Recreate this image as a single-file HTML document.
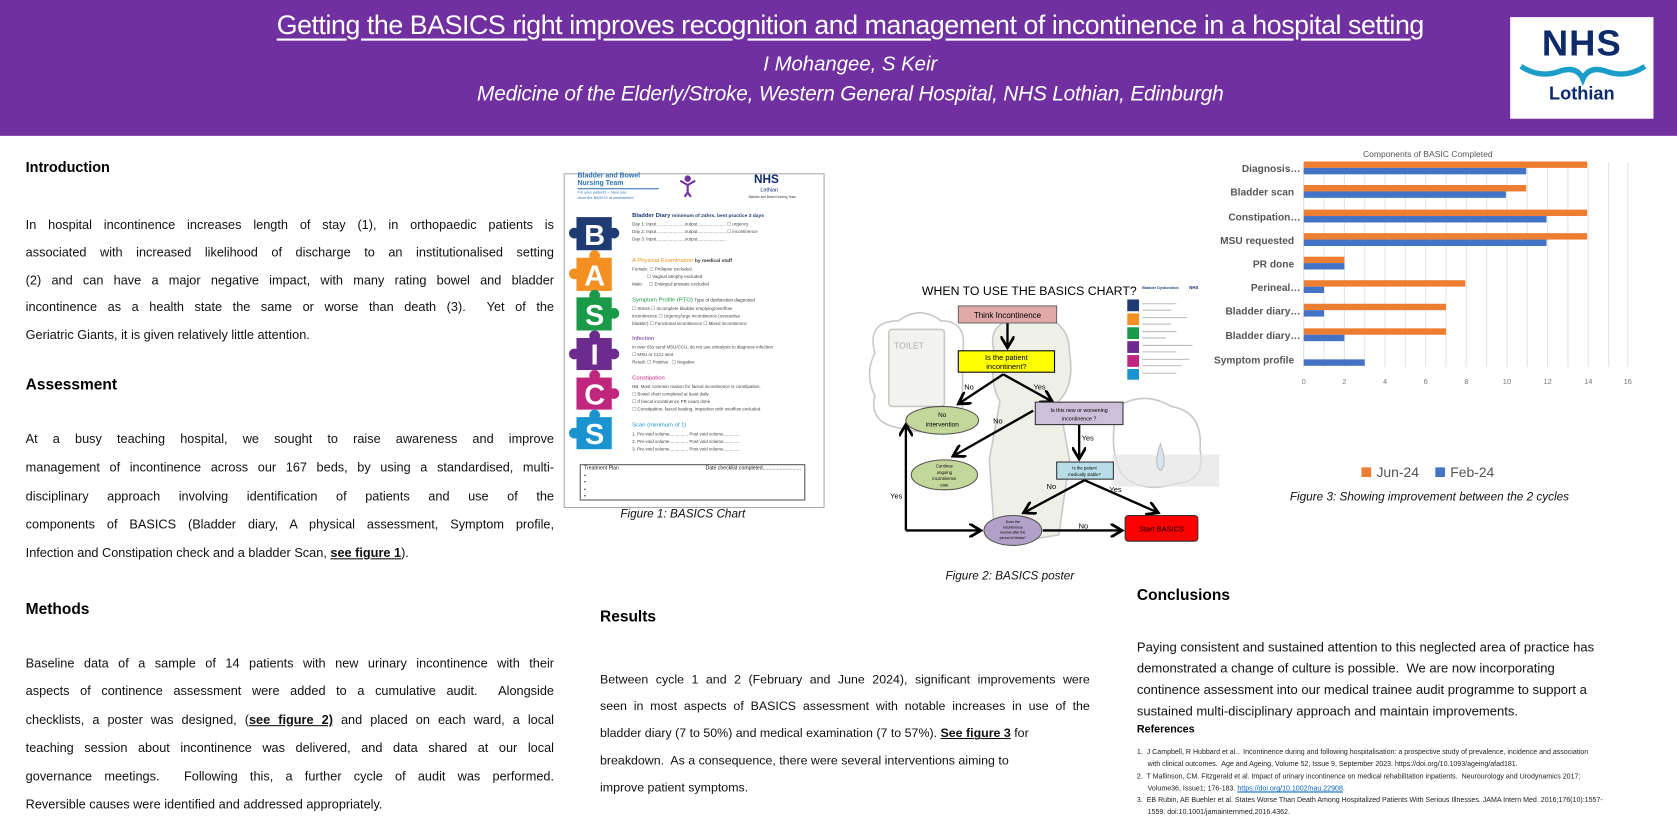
<!DOCTYPE html>
<html><head><meta charset="utf-8">
<style>
html,body{margin:0;padding:0;background:#fff;width:1677px;height:839px;overflow:hidden}
#w{position:absolute;left:0;top:0;width:1568px;height:785px;transform:scale(1.06952);transform-origin:0 0;font-family:"Liberation Sans",sans-serif;color:#111}
.a{position:absolute}
.hd{position:absolute;font-weight:bold;font-size:13.5px;color:#000}
.p{position:absolute;font-size:11.9px}
.p div{text-align:justify;text-align-last:justify;white-space:normal}
.p div.e{text-align-last:left}
.cap{position:absolute;font-style:italic;font-size:11px;color:#111}
.t{position:absolute;white-space:nowrap}
</style></head><body><div id="w">
<!-- header -->
<div class="a" style="left:0;top:0;width:1568px;height:127px;background:#7030a0"></div>
<div class="t" style="left:235px;top:10px;width:1120px;text-align:center;color:#fff;font-size:25px;text-decoration:underline;text-underline-offset:4px;letter-spacing:-0.4px">Getting the BASICS right improves recognition and management of incontinence in a hospital setting</div>
<div class="t" style="left:595px;top:50px;width:400px;text-align:center;color:#fff;font-size:19px;font-style:italic">I Mohangee, S Keir</div>
<div class="t" style="left:395px;top:77px;width:800px;text-align:center;color:#fff;font-size:19.5px;font-style:italic;letter-spacing:-0.2px">Medicine of the Elderly/Stroke, Western General Hospital, NHS Lothian, Edinburgh</div>
<div class="a" style="left:1412px;top:16px;width:134px;height:95px;background:#fff"></div>
<div class="t" style="left:1412px;top:22px;width:134px;text-align:center;font-weight:bold;font-size:34px;color:#0d2a6b;letter-spacing:1px">NHS</div>
<svg class="a" style="left:1420px;top:58px" width="120" height="22"><path d="M2 4 Q20 16 40 8 Q55 4 60 16 Q65 4 80 8 Q100 16 118 4" stroke="#1b9dc9" stroke-width="5" fill="none"/></svg>
<div class="t" style="left:1412px;top:78px;width:134px;text-align:center;font-weight:bold;font-size:17px;color:#0d2a6b">Lothian</div>

<!-- left column -->
<div class="hd" style="left:24px;top:149px">Introduction</div>
<div class="p" style="left:24px;top:198px;width:494px;line-height:25.8px">
<div>In hospital incontinence increases length of stay (1), in orthopaedic patients is</div>
<div>associated with increased likelihood of discharge to an institutionalised setting</div>
<div>(2) and can have a major negative impact, with many rating bowel and bladder</div>
<div>incontinence as a health state the same or worse than death (3).&nbsp; Yet of the</div>
<div class="e">Geriatric Giants, it is given relatively little attention.</div></div>
<div class="hd" style="left:24px;top:352px;font-size:14.5px">Assessment</div>
<div class="p" style="left:24px;top:397px;width:494px;line-height:26.8px">
<div>At a busy teaching hospital, we sought to raise awareness and improve</div>
<div>management of incontinence across our 167 beds, by using a standardised, multi-</div>
<div>disciplinary approach involving identification of patients and use of the</div>
<div>components of BASICS (Bladder diary, A physical assessment, Symptom profile,</div>
<div class="e">Infection and Constipation check and a bladder Scan, <b><u>see figure 1</u></b>).</div></div>
<div class="hd" style="left:24px;top:562px;font-size:14.5px">Methods</div>
<div class="p" style="left:24px;top:607px;width:494px;line-height:26.4px">
<div>Baseline data of a sample of 14 patients with new urinary incontinence with their</div>
<div>aspects of continence assessment were added to a cumulative audit.&nbsp; Alongside</div>
<div>checklists, a poster was designed, (<b><u>see figure 2)</u></b> and placed on each ward, a local</div>
<div>teaching session about incontinence was delivered, and data shared at our local</div>
<div>governance meetings.&nbsp; Following this, a further cycle of audit was performed.</div>
<div class="e">Reversible causes were identified and addressed appropriately.</div></div>

<!-- results -->
<div class="hd" style="left:561px;top:569px;font-size:14.5px">Results</div>
<div class="p" style="left:561px;top:623px;width:458px;line-height:25.2px;font-size:11.6px">
<div>Between cycle 1 and 2 (February and June 2024), significant improvements were</div>
<div>seen in most aspects of BASICS assessment with notable increases in use of the</div>
<div class="e">bladder diary (7 to 50%) and medical examination (7 to 57%). <b><u>See figure 3</u></b> for</div>
<div class="e">breakdown.&nbsp; As a consequence, there were several interventions aiming to</div>
<div class="e">improve patient symptoms.</div></div>

<!-- conclusions -->
<div class="hd" style="left:1063px;top:549px;font-size:14.5px">Conclusions</div>
<div class="p" style="left:1063px;top:595px;width:470px;line-height:20px;font-size:12.2px">
<div class="e">Paying consistent and sustained attention to this neglected area of practice has</div>
<div class="e">demonstrated a change of culture is possible.&nbsp; We are now incorporating</div>
<div class="e">continence assessment into our medical trainee audit programme to support a</div>
<div class="e">sustained multi-disciplinary approach and maintain improvements.</div></div>
<div class="hd" style="left:1063px;top:677px;font-size:10px">References</div>
<div class="a" style="left:1063px;top:698px;width:480px;font-size:6.6px;line-height:11.3px;color:#222">
<div>1.&nbsp; J Campbell, R Hubbard et al..&nbsp; Incontinence during and following hospitalisation: a prospective study of prevalence, incidence and association</div>
<div style="padding-left:10px">with clinical outcomes.&nbsp; Age and Ageing, Volume 52, Issue 9, September 2023. https://doi.org/10.1093/ageing/afad181.</div>
<div>2.&nbsp; T Mallinson, CM. Fitzgerald et al. Impact of urinary incontinence on medical rehabilitation inpatients.&nbsp; Neurourology and Urodynamics 2017;</div>
<div style="padding-left:10px">Volume36, Issue1; 176-183. <span style="color:#0563c1;text-decoration:underline">https://doi.org/10.1002/nau.22908</span>.</div>
<div>3.&nbsp; EB Rubin, AE Buehler et al. States Worse Than Death Among Hospitalized Patients With Serious Illnesses. JAMA Intern Med. 2016;176(10):1557-</div>
<div style="padding-left:10px">1559. doi:10.1001/jamainternmed.2016.4362.</div></div>

<!-- figure 1 -->
<div class="a" style="left:527px;top:162px;width:242px;height:311px;border:1px solid #aaa;background:#fff"></div>
<div class="t" style="left:540px;top:161px;font-size:6.5px;font-weight:bold;color:#2e75b6;line-height:7px">Bladder and Bowel<br>Nursing Team</div>
<div class="a" style="left:540px;top:176px;width:76px;height:1px;background:#2e75b6"></div>
<div class="t" style="left:540px;top:178px;font-size:3.6px;color:#2e75b6;line-height:4.5px">For your patients – have you<br>done the BASICS of assessment</div>
<svg class="a" style="left:633px;top:163px" width="20" height="22"><circle cx="10" cy="4" r="3" fill="#7030a0"/><path d="M3 6 L10 10 L17 6 M10 10 V17 M7 21 L10 17 L13 21" stroke="#7030a0" stroke-width="2" fill="none"/></svg>
<div class="t" style="left:705px;top:162px;font-size:11px;font-weight:bold;color:#0d2a6b">NHS</div>
<div class="t" style="left:711px;top:175px;font-size:5px;color:#0d2a6b">Lothian</div>
<div class="t" style="left:700px;top:182px;font-size:3px;color:#333">Bladder and Bowel Nursing Team</div>
<svg class="a" style="left:527px;top:195px" width="65" height="230">
<g font-family="Liberation Sans" font-weight="bold" font-size="27" fill="#fff" text-anchor="middle">
<rect x="12" y="8" width="33" height="31" fill="#1f3b73"/><circle cx="47" cy="23" r="5" fill="#1f3b73"/><circle cx="10" cy="23" r="5" fill="#1f3b73"/><text x="29" y="34">B</text>
<rect x="12" y="46" width="33" height="31" fill="#f39021"/><circle cx="29" cy="44" r="5" fill="#f39021"/><circle cx="10" cy="61" r="5" fill="#f39021"/><text x="29" y="72">A</text>
<rect x="12" y="83" width="33" height="31" fill="#1a9a48"/><circle cx="29" cy="81" r="5" fill="#1a9a48"/><circle cx="47" cy="98" r="5" fill="#1a9a48"/><text x="29" y="109">S</text>
<rect x="12" y="121" width="33" height="30" fill="#6b2c8e"/><circle cx="29" cy="119" r="5" fill="#6b2c8e"/><circle cx="10" cy="136" r="5" fill="#6b2c8e"/><circle cx="47" cy="136" r="5" fill="#6b2c8e"/><text x="29" y="146">I</text>
<rect x="12" y="158" width="33" height="30" fill="#c0267e"/><circle cx="29" cy="156" r="5" fill="#c0267e"/><circle cx="47" cy="173" r="5" fill="#c0267e"/><text x="29" y="183">C</text>
<rect x="12" y="195" width="33" height="30" fill="#1b93cf"/><circle cx="29" cy="193" r="5" fill="#1b93cf"/><circle cx="10" cy="210" r="5" fill="#1b93cf"/><text x="29" y="220">S</text>
</g></svg>
<div class="a" style="left:591px;top:198px;font-size:4.2px;line-height:7px;color:#444;width:170px">
<div style="color:#1f3b73;font-weight:bold;font-size:5.5px">Bladder Diary <span style="font-size:4.6px">minimum of 24hrs, best practice 3 days</span></div>
<div>Day 1: Input.......................output....................... ☐ urgency</div><div>Day 2: Input.......................output....................... ☐ incontinence</div><div>Day 3: Input.......................output.......................</div>
<div style="height:13px"></div>
<div style="color:#f39021;font-size:5.5px">A Physical Examination <span style="color:#333;font-weight:bold;font-size:4.6px">by medical staff</span></div>
<div>Female: ☐ Prolapse excluded</div><div>&nbsp;&nbsp;&nbsp;&nbsp;&nbsp;&nbsp;&nbsp;&nbsp;&nbsp;&nbsp;&nbsp; ☐ Vaginal atrophy excluded</div><div>Male: &nbsp;&nbsp;&nbsp; ☐ Enlarged prostate excluded</div>
<div style="height:8px"></div>
<div style="color:#1a9a48;font-size:5.5px">Symptom Profile (PTO) <span style="color:#333;font-size:4.2px">Type of dysfunction diagnosed</span></div>
<div>☐ Stress ☐ Incomplete bladder emptying/overflow</div><div>incontinence ☐ Urgency/urge incontinence (overactive</div><div>bladder) ☐ Functional incontinence ☐ Mixed incontinence</div>
<div style="height:8px"></div>
<div style="color:#6b2c8e;font-size:5.5px">Infection</div>
<div>In over 65s send MSU/CCU, do not use urinalysis to diagnose infection</div><div>☐ MSU or CCU sent</div><div>Result: ☐ Positive &nbsp; ☐ Negative</div>
<div style="height:9px"></div>
<div style="color:#c0267e;font-size:5.5px">Constipation</div>
<div>NB. Most common reason for faecal incontinence is constipation.</div><div>☐ Bowel chart completed at least daily</div><div>☐ If faecal incontinence PR exam done</div><div>☐ Constipation, faecal loading, impaction with overflow excluded</div>
<div style="height:9px"></div>
<div style="color:#1b93cf;font-size:5.5px">Scan (minimum of 1)</div>
<div>1. Pre-void volume............... Post void volume.............</div><div>2. Pre-void volume............... Post void volume.............</div><div>3. Pre-void volume............... Post void volume.............</div>
</div>
<div class="a" style="left:542px;top:434px;width:211px;height:34px;border:1px solid #555;font-size:4.8px;line-height:6.5px;padding:1px 3px;box-sizing:border-box">Treatment Plan<span style="float:right">Date checklist completed...........................</span><br>•<br>•<br>•<br>•</div>
<div class="cap" style="left:580px;top:475px">Figure 1: BASICS Chart</div>

<!-- figure 2 -->
<svg class="a" style="left:800px;top:255px" width="340" height="270" viewBox="800 255 340 270">
<defs><marker id="ar" markerWidth="6" markerHeight="6" refX="4.5" refY="3" orient="auto" markerUnits="strokeWidth"><path d="M0 0 L5 3 L0 6" fill="none" stroke="#000" stroke-width="1.2"/></marker></defs>
<g fill="none" stroke="#c8c8c8" stroke-width="1.5">
<path d="M818 330 Q810 300 840 300 Q860 285 880 300 Q905 300 900 330 L900 395 Q880 410 840 400 Q812 395 818 370 Q808 350 818 330Z"/>
<rect x="831" y="308" width="52" height="72" rx="3" fill="#f2f2ee"/>
<path d="M1045 380 Q1070 365 1095 380 Q1125 385 1122 420 Q1128 450 1100 452 Q1070 462 1050 445 Q1035 420 1045 380Z"/>
<path d="M930 330 Q920 300 960 295 Q1000 295 1000 330 Q1005 360 990 375 L1000 430 L990 500 L960 505 L930 500 L925 430 L935 375 Q925 360 930 330Z" fill="#eef0e8"/>
</g>
<rect x="1040" y="425" width="140" height="30" fill="#e4e4e4" opacity="0.7"/>
<path d="M1085 415 Q1078 435 1085 440 Q1092 435 1085 415Z" fill="#d6e6f0" stroke="#bbb"/>
<text x="836" y="326" font-family="Liberation Sans" font-size="8" fill="#aaa">TOILET</text>
<text x="862" y="276" font-family="Liberation Sans" font-size="11.5" fill="#000">WHEN TO USE THE BASICS CHART?</text>
<g stroke="#000" stroke-width="2.2" fill="none">
<path d="M942 302 V324" marker-end="url(#ar)"/>
<path d="M938 350 L897 377" marker-end="url(#ar)"/>
<path d="M938 350 L983 375" marker-end="url(#ar)"/>
<path d="M966 384 L892 426" marker-end="url(#ar)"/>
<path d="M1009 397 V428" marker-end="url(#ar)"/>
<path d="M1014 449 L958 479" marker-end="url(#ar)"/>
<path d="M1014 449 L1082 479" marker-end="url(#ar)"/>
<path d="M975 496 H1048" marker-end="url(#ar)"/>
<path d="M847 496 V398" marker-end="url(#ar)"/>
<path d="M847 496 H916" marker-end="url(#ar)"/>
</g>
<g font-family="Liberation Sans" text-anchor="middle" fill="#000">
<rect x="896" y="286" width="92" height="16" fill="#e0a8a8" stroke="#555" stroke-width="0.8"/><text x="942" y="297.5" font-size="7.5">Think Incontinence</text>
<rect x="896" y="328" width="90" height="20" fill="#ffff00" stroke="#000" stroke-width="1"/><text x="941" y="336.5" font-size="7">Is the patient</text><text x="941" y="345" font-size="7">incontinent?</text>
<ellipse cx="881" cy="393" rx="34" ry="13" fill="#c4d79b" stroke="#555"/><text x="881" y="390" font-size="6">No</text><text x="881" y="399" font-size="6">intervention</text>
<rect x="968" y="376" width="82" height="21" fill="#ccc0da" stroke="#333"/><text x="1009" y="385" font-size="5">Is this new or worsening</text><text x="1009" y="393" font-size="5">incontinence ?</text>
<ellipse cx="883" cy="444" rx="31" ry="14" fill="#c4d79b" stroke="#555"/><text x="883" y="437" font-size="4">Continue</text><text x="883" y="443" font-size="4">ongoing</text><text x="883" y="449" font-size="4">incontinence</text><text x="883" y="455" font-size="4">care</text>
<rect x="988" y="432" width="53" height="16" fill="#b7dee8" stroke="#333"/><text x="1014" y="439" font-size="4">Is the patient</text><text x="1014" y="445" font-size="4">medically stable?</text>
<ellipse cx="947" cy="496" rx="27" ry="14" fill="#b1a0c7" stroke="#555"/><text x="947" y="489" font-size="3.3">Does the</text><text x="947" y="494" font-size="3.3">incontinence</text><text x="947" y="499" font-size="3.3">resolve after the</text><text x="947" y="504" font-size="3.3">period of illness?</text>
<rect x="1052" y="482" width="68" height="24" rx="3" fill="#ff0000" stroke="#333"/><text x="1086" y="497" font-size="7">Start BASICS</text>
<g font-size="7"><text x="906" y="364">No</text><text x="972" y="364">Yes</text><text x="933" y="396">No</text><text x="1017" y="412">Yes</text><text x="983" y="457">No</text><text x="1043" y="460">Yes</text><text x="1013" y="494">No</text><text x="838" y="466">Yes</text></g>
</g>
<g>
<rect x="1054" y="280" width="11" height="11" fill="#1f3b73"/><rect x="1054" y="293" width="11" height="11" fill="#f39021"/><rect x="1054" y="306" width="11" height="11" fill="#1a9a48"/><rect x="1054" y="319" width="11" height="11" fill="#6b2c8e"/><rect x="1054" y="332" width="11" height="11" fill="#c0267e"/><rect x="1054" y="345" width="11" height="10" fill="#1b93cf"/>
<text x="1068" y="270" font-size="3.5" font-family="Liberation Sans" font-weight="bold" fill="#1f3b73">Bladder Dysfunction</text>
<text x="1112" y="270" font-size="4" font-family="Liberation Sans" font-weight="bold" fill="#0d2a6b">NHS</text>
<g stroke="#bbb" stroke-width="1"><path d="M1068 284 H1100 M1068 290 H1095 M1068 297 H1110 M1068 303 H1095 M1068 310 H1100 M1068 316 H1090 M1068 323 H1115 M1068 329 H1100 M1068 336 H1112 M1068 342 H1105 M1068 349 H1100"/></g>
</g>
</svg>
<div class="cap" style="left:884px;top:533px">Figure 2: BASICS poster</div>

<!-- figure 3 chart -->
<svg class="a" style="left:1120px;top:135px" width="440" height="320" viewBox="1120 135 440 320" font-family="Liberation Sans">
<text x="1335" y="147" font-size="8" fill="#555" text-anchor="middle">Components of BASIC Completed</text>
<g stroke="#e3e3e3" stroke-width="1">
<path d="M1238 152 V343 M1257 152 V343 M1276 152 V343 M1295 152 V343 M1314 152 V343 M1333 152 V343 M1352 152 V343 M1371 152 V343 M1390 152 V343 M1409 152 V343 M1428 152 V343 M1447 152 V343 M1466 152 V343 M1485 152 V343 M1504 152 V343 M1522 152 V343" />
</g>
<line x1="1219" y1="152" x2="1219" y2="343" stroke="#ddd"/>
<g fill="#ed7d31">
<rect x="1219" y="151" width="265" height="6"/><rect x="1219" y="173" width="208" height="6"/><rect x="1219" y="196" width="265" height="6"/><rect x="1219" y="218" width="265" height="6"/><rect x="1219" y="240" width="38" height="6"/><rect x="1219" y="262" width="151" height="6"/><rect x="1219" y="284" width="133" height="6"/><rect x="1219" y="307" width="133" height="6"/>
</g>
<g fill="#4472c4">
<rect x="1219" y="157" width="208" height="6"/><rect x="1219" y="179" width="189" height="6"/><rect x="1219" y="202" width="227" height="6"/><rect x="1219" y="224" width="227" height="6"/><rect x="1219" y="246" width="38" height="6"/><rect x="1219" y="268" width="19" height="6"/><rect x="1219" y="290" width="19" height="6"/><rect x="1219" y="313" width="38" height="6"/><rect x="1219" y="336" width="57" height="6"/>
</g>
<g font-size="9.5" font-weight="bold" fill="#555" text-anchor="end">
<text x="1216" y="161">Diagnosis…</text><text x="1210" y="183">Bladder scan</text><text x="1216" y="206">Constipation…</text><text x="1210" y="228">MSU requested</text><text x="1210" y="250">PR done</text><text x="1216" y="272">Perineal…</text><text x="1216" y="294">Bladder diary…</text><text x="1216" y="317">Bladder diary…</text><text x="1210" y="340">Symptom profile</text>
</g>
<g font-size="7" fill="#777" text-anchor="middle">
<text x="1219" y="359">0</text><text x="1257" y="359">2</text><text x="1295" y="359">4</text><text x="1333" y="359">6</text><text x="1371" y="359">8</text><text x="1409" y="359">10</text><text x="1447" y="359">12</text><text x="1485" y="359">14</text><text x="1522" y="359">16</text>
</g>
<rect x="1273" y="437" width="9" height="9" fill="#ed7d31"/><text x="1287" y="446" font-size="13" fill="#555">Jun-24</text>
<rect x="1342" y="437" width="9" height="9" fill="#4472c4"/><text x="1356" y="446" font-size="13" fill="#555">Feb-24</text>
</svg>
<div class="cap" style="left:1206px;top:459px">Figure 3: Showing improvement between the 2 cycles</div>
</div></body></html>
